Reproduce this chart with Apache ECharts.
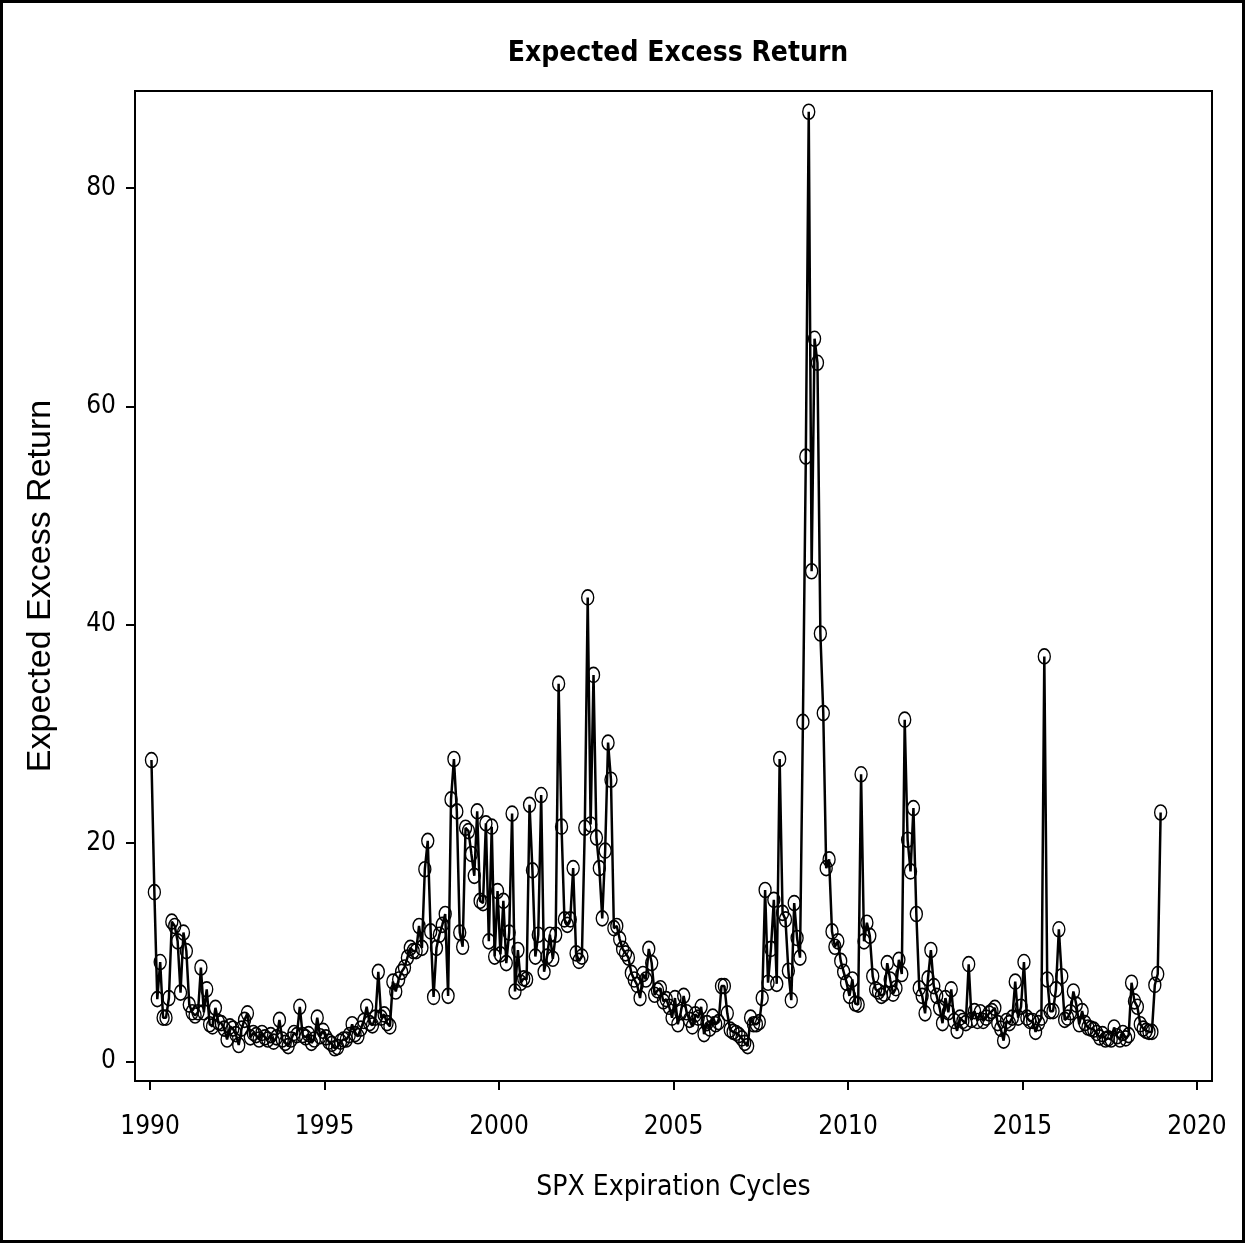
<!DOCTYPE html>
<html>
<head>
<meta charset="utf-8">
<script src="https://cdn.jsdelivr.net/npm/echarts@6/dist/echarts.min.js"></script>
<style>
  html, body { margin: 0; padding: 0; background: #fff; }
  #chart { width: 1246px; height: 1245px; }
</style>
</head>
<body>
<div id="chart"></div>
<script>
// Expected Excess Return, one value per SPX expiration cycle (monthly, Jan 1990 - Dec 2018)
const startYear = 1990;

const values1990s = [
  27.6, 15.5, 5.7, 9.1, 4.0, 4.0, 5.8, 12.8, 12.4, 11.0, 6.3, 11.8,   // 1990
  10.1, 5.2, 4.5, 4.2, 4.5, 8.6, 4.5, 6.6, 3.4, 3.2, 4.9, 3.6,        // 1991
  3.5, 3.0, 2.0, 3.2, 3.0, 2.5, 1.5, 3.0, 3.8, 4.4, 2.2, 2.6,         // 1992
  2.4, 2.0, 2.6, 2.2, 2.0, 2.4, 1.8, 2.2, 3.8, 2.0, 1.7, 1.4,         // 1993
  2.0, 2.6, 2.4, 5.0, 2.4, 2.2, 2.5, 1.7, 2.0, 4.0, 2.3, 2.8,         // 1994
  2.2, 1.8, 1.6, 1.2, 1.3, 1.8, 2.0, 2.0, 2.4, 3.4, 2.5, 2.3,         // 1995
  3.0, 3.7, 5.0, 3.5, 3.3, 4.0, 8.2, 4.0, 4.3, 3.5, 3.2, 7.3,         // 1996
  6.4, 7.5, 8.2, 8.6, 9.5, 10.4, 10.1, 10.1, 12.4, 10.4, 17.6, 20.2,  // 1997
  11.9, 5.9, 10.4, 11.6, 12.5, 13.5, 6.0, 24.0, 27.7, 22.9, 11.8, 10.5, // 1998
  21.4, 21.1, 19.0, 17.0, 22.9, 14.7, 14.5, 21.8, 11.0, 21.5, 9.6, 15.6 // 1999
];

const values2000s = [
  9.8, 14.7, 9.0, 11.8, 22.7, 6.4, 10.2, 7.2, 7.6, 7.5, 23.5, 17.5,   // 2000
  9.6, 11.6, 24.4, 8.2, 9.6, 11.6, 9.4, 11.6, 34.6, 21.5, 13.0, 12.5, // 2001
  13.0, 17.7, 9.9, 9.2, 9.6, 21.4, 42.5, 21.7, 35.4, 20.5, 17.7, 13.1, // 2002
  19.3, 29.2, 25.8, 12.2, 12.4, 11.2, 10.3, 9.9, 9.5, 8.1, 7.5, 7.0,  // 2003
  5.8, 8.0, 7.5, 10.3, 9.0, 6.1, 6.5, 6.7, 5.5, 5.7, 5.0, 4.0,        // 2004
  5.8, 3.4, 4.5, 6.0, 4.5, 3.8, 3.2, 4.3, 4.0, 5.0, 2.5, 3.5,         // 2005
  3.0, 4.1, 3.4, 3.6, 6.9, 6.9, 4.4, 2.9, 2.7, 2.6, 2.4, 2.1,         // 2006
  1.7, 1.4, 4.0, 3.4, 3.4, 3.6, 5.8, 15.7, 7.2, 10.3, 14.8, 7.1,      // 2007
  27.7, 13.6, 13.0, 8.3, 5.6, 14.5, 11.3, 9.5, 31.1, 55.4, 87.0, 44.9, // 2008
  66.2, 64.0, 39.2, 31.9, 17.7, 18.5, 11.9, 10.5, 11.0, 9.2, 8.2, 7.2 // 2009
];

const values2010s = [
  6.0, 7.5, 5.3, 5.2, 26.3, 11.0, 12.7, 11.5, 7.8, 6.6, 6.4, 6.0,     // 2010
  6.2, 9.0, 7.5, 6.2, 6.7, 9.3, 8.0, 31.3, 20.3, 17.4, 23.2, 13.5,    // 2011
  6.7, 6.0, 4.4, 7.6, 10.2, 6.9, 6.0, 4.9, 3.5, 5.8, 4.5, 6.6,        // 2012
  3.7, 2.8, 4.0, 3.7, 3.5, 8.9, 3.8, 4.6, 3.7, 4.5, 3.7, 4.0,         // 2013
  4.4, 4.6, 4.9, 3.5, 3.0, 1.9, 3.7, 3.5, 4.0, 7.3, 4.0, 5.0,         // 2014
  9.1, 4.0, 3.7, 3.7, 2.7, 3.5, 4.0, 37.1, 7.5, 4.6, 4.6, 6.6,        // 2015
  12.1, 7.8, 3.8, 4.0, 4.5, 6.4, 5.2, 3.4, 4.6, 3.5, 3.1, 3.0,        // 2016
  2.9, 2.6, 2.2, 2.5, 2.0, 2.1, 2.0, 3.1, 2.3, 2.0, 2.6, 2.1,         // 2017
  2.4, 7.2, 5.5, 5.0, 3.4, 3.0, 2.8, 2.7, 2.7, 7.0, 8.0, 22.8         // 2018
];

const xTicks = [1990, 1995, 2000, 2005, 2010, 2015, 2020];
const yTicks = [0, 20, 40, 60, 80];

const narrowFont = "'Liberation Sans Narrow', 'Arial Narrow', 'DejaVu Sans Condensed', sans-serif";

function initChart() {
    const chart = echarts.init(document.getElementById('chart'), null, { renderer: 'canvas' });

    // cycles sit near the middle of each month
    const allValues = values1990s.concat(values2000s, values2010s);
    const seriesData = allValues.map((v, i) => [startYear + (i + 0.5) / 12, v]);

    const option = {
        backgroundColor: '#fff',
        animation: false,
        title: {
            text: 'Expected Excess Return',
            left: 673,
            textAlign: 'center',
            top: 35,
            textStyle: {
                fontFamily: narrowFont,
                fontWeight: 'bold',
                fontSize: 28,
                color: '#000'
            }
        },
        graphic: [{
            type: 'rect',
            shape: { x: 1.5, y: 1.5, width: 1242, height: 1240 },
            style: { fill: 'none', stroke: '#000', lineWidth: 3 },
            silent: true
        }],
        grid: {
            left: 135,
            right: 34,
            top: 91,
            bottom: 164,
            show: true,
            borderColor: '#000',
            borderWidth: 2,
            backgroundColor: '#fff'
        },
        xAxis: {
            type: 'value',
            min: 1989.57,
            max: 2020.43,
            name: 'SPX Expiration Cycles',
            nameLocation: 'middle',
            nameGap: 93,
            nameTextStyle: { fontFamily: narrowFont, fontSize: 28, color: '#000' },
            splitLine: { show: false },
            axisLine: { show: true, onZero: false, lineStyle: { color: '#000', width: 2 } },
            axisTick: {
                show: true,
                length: 9,
                customValues: xTicks,
                lineStyle: { color: '#000', width: 2 }
            },
            axisLabel: {
                customValues: xTicks,
                formatter: v => String(v),
                margin: 33,
                fontFamily: narrowFont,
                fontSize: 26,
                color: '#000'
            }
        },
        yAxis: {
            type: 'value',
            min: -1.8,
            max: 88.9,
            name: 'Expected Excess Return',
            nameLocation: 'middle',
            nameGap: 77,
            nameTextStyle: { fontFamily: "'Liberation Sans', Arial, sans-serif", fontSize: 34, color: '#000' },
            splitLine: { show: false },
            axisLine: { show: true, onZero: false, lineStyle: { color: '#000', width: 2 } },
            axisTick: {
                show: true,
                length: 9,
                customValues: yTicks,
                lineStyle: { color: '#000', width: 2 }
            },
            axisLabel: {
                customValues: yTicks,
                formatter: v => String(v),
                margin: 19,
                fontFamily: narrowFont,
                fontSize: 26,
                color: '#000'
            }
        },
        series: [{
            name: 'Expected Excess Return',
            type: 'line',
            data: seriesData,
            symbol: 'circle',
            symbolSize: [12, 15],
            showAllSymbol: true,
            lineStyle: { color: '#000', width: 2.5 },
            itemStyle: {
                color: 'rgba(0,0,0,0)',
                borderColor: '#000',
                borderWidth: 1.5
            },
            emphasis: { disabled: true }
        }]
    };

    chart.setOption(option);
    return chart;
}

window.chartInstance = initChart();
</script>
</body>
</html>
